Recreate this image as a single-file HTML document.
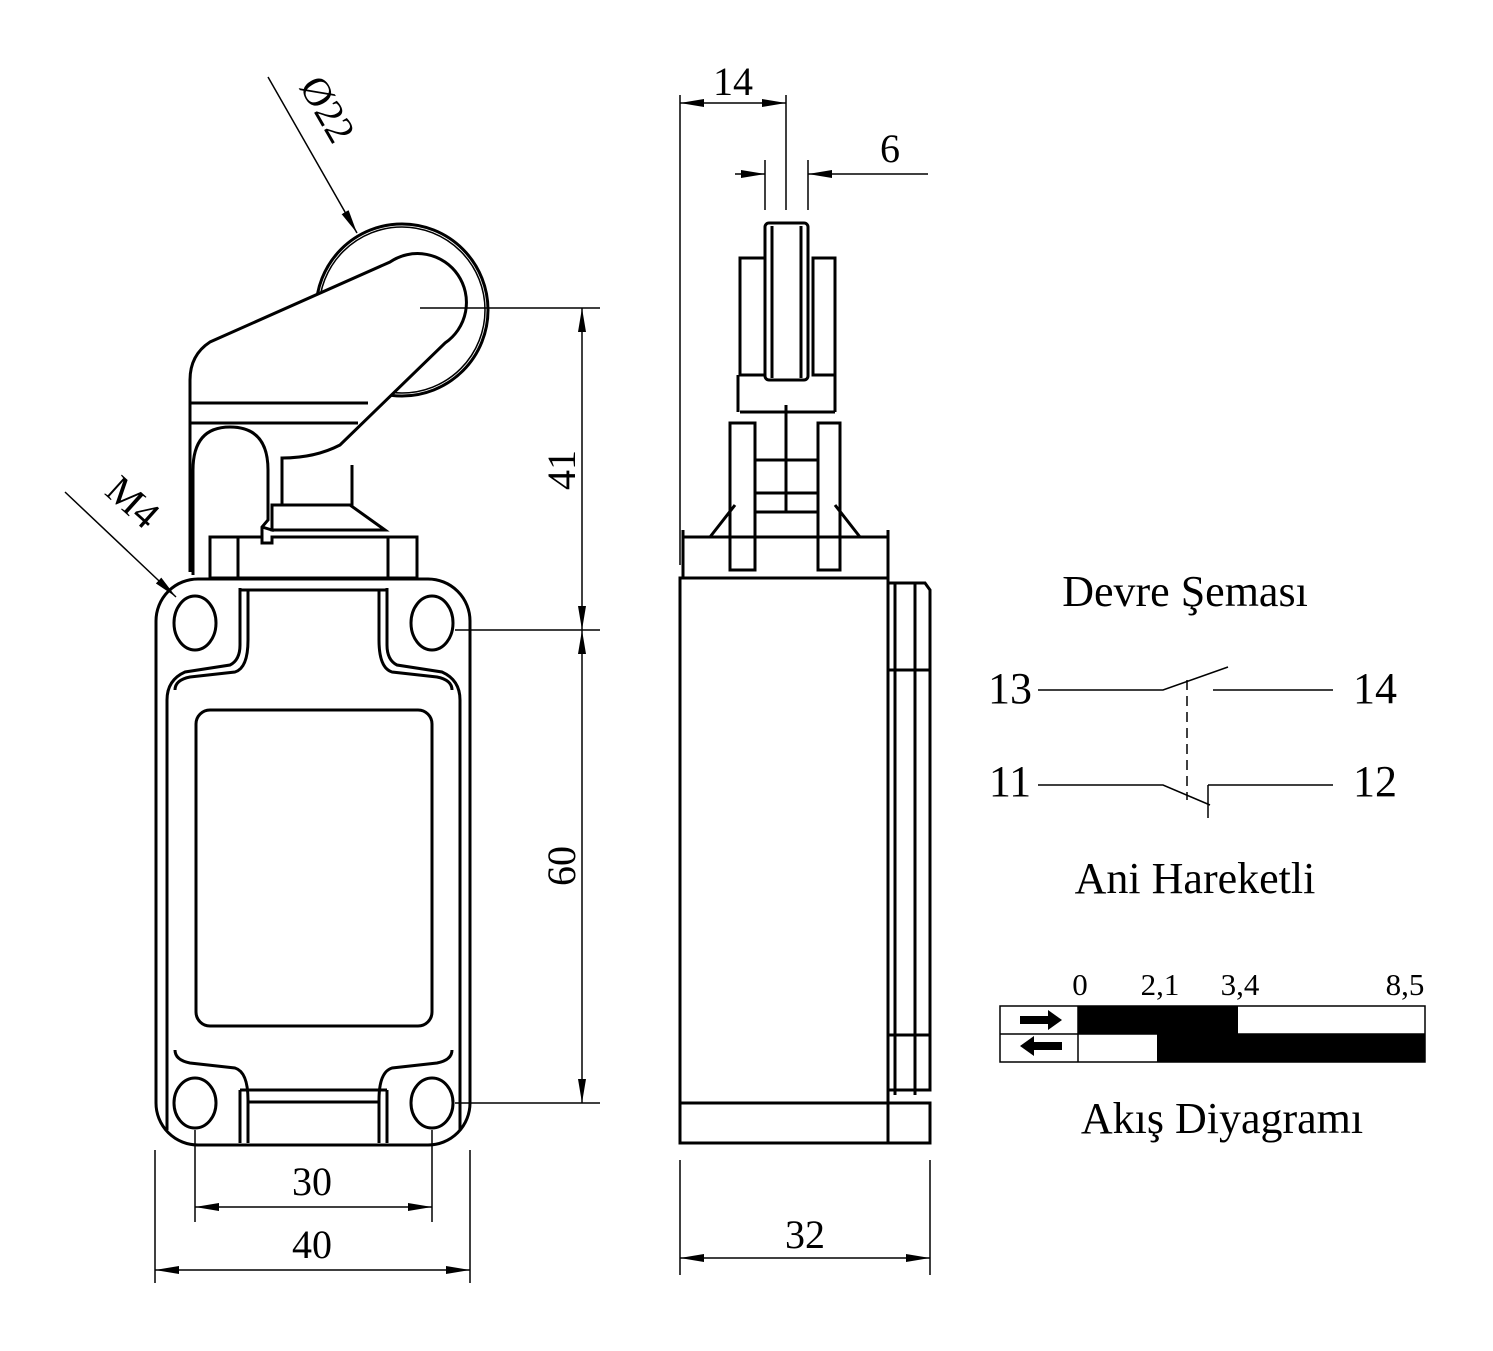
<!DOCTYPE html>
<html><head><style>body{margin:0;background:#fff}svg{display:block}text{font-family:"Liberation Serif",serif;fill:#000}</style></head><body>
<svg width="1493" height="1351" viewBox="0 0 1493 1351" xmlns="http://www.w3.org/2000/svg">
<defs><marker id="a" viewBox="0 0 24 10" refX="24" refY="5" markerWidth="24" markerHeight="10" markerUnits="userSpaceOnUse" orient="auto"><path d="M0,1 L24,5 L0,9 Z" fill="#000"/></marker></defs>
<g fill="none" stroke="#000" stroke-width="3">
<rect x="156" y="579" width="314" height="566" rx="42"/>
<path d="M167,1130 V700 Q167,680 185,672 L230,665 Q240,660 240,645 V588 M460,1130 V700 Q460,680 442,672 L397,665 Q387,660 387,645 V588"/>
<path d="M175,690 Q175,680 190,677 L235,672 Q248,668 248,640 V590 M452,690 Q452,680 437,677 L392,672 Q379,668 379,640 V590"/>
<path d="M175,1050 Q175,1060 190,1063 L235,1068 Q248,1072 248,1100 V1143 M452,1050 Q452,1060 437,1063 L392,1068 Q379,1072 379,1100 V1143"/>
<path d="M167,700 V1040 M460,700 V1040"/>
<path d="M240,1090 H387 M248,1102 H379 M240,1143 V1090 M387,1143 V1090"/>
<rect x="196" y="710" width="236" height="316" rx="14"/>
<ellipse cx="195" cy="623" rx="21" ry="27"/><ellipse cx="432" cy="623" rx="21" ry="27"/>
<ellipse cx="195" cy="1103" rx="21" ry="25"/><ellipse cx="432" cy="1103" rx="21" ry="25"/>
<circle cx="402" cy="310" r="86"/>
<circle cx="402" cy="310" r="83" stroke-width="1.5"/>
<path fill="#fff" d="M190,572 V380 Q190,355 210,342 L390,262 A46,46 0 0 1 445,343 L340,445 Q315,458 282,458 L282,505 H272 V530 L262,527 V537 H190 Z"/>
<path d="M190,403 H368 M190,423 H358"/>
<path fill="#fff" d="M193,572 V470 Q193,427 230,427 Q268,427 268,470 V520 L262,527 V537"/>
<path d="M282,458 V505 H352 V465 M272,505 V530 H367 L385,530 L350,505"/>
<path fill="#fff" d="M210,578 V537 H262 V543 H272 V537 H417 V578 Z"/>
<path d="M238,537 V578 M388,537 V578 M240,590 H387 M193,537 V575"/>
<rect x="680" y="578" width="208" height="565"/>
<path d="M680,1103 H930 V1143 H888 M888,583 H925 L930,590 V1090 H888 M895,583 V1095 M915,583 V1095 M888,670 H930 M888,1035 H930"/>
<path d="M683,530 V578 M888,530 V578 M683,537 H888 M710,537 L735,505 M860,537 L835,505"/>
<rect x="730" y="423" width="25" height="147"/><rect x="818" y="423" width="22" height="147"/>
<path d="M755,460 H818 M755,493 H818 M755,512 H818 M786,405 V512 M740,412 H835 M738,375 V412 M835,375 V412"/>
<rect x="740" y="258" width="25" height="117"/><rect x="813" y="258" width="22" height="117"/>
<rect x="765" y="223" width="43" height="157" rx="4"/>
<path d="M772,226 V378 M801,226 V378"/>
</g>
<g fill="none" stroke="#000" stroke-width="1.5">
<path d="M420,308 H600 M455,630 H600 M455,1103 H600"/>
<line x1="582" y1="400" x2="582" y2="308" marker-end="url(#a)"/><line x1="582" y1="400" x2="582" y2="630" marker-end="url(#a)"/>
<line x1="582" y1="800" x2="582" y2="630" marker-end="url(#a)"/><line x1="582" y1="800" x2="582" y2="1103" marker-end="url(#a)"/>
<path d="M155,1150 V1283 M470,1150 V1283 M195,1130 V1222 M432,1130 V1222 M680,1160 V1275 M930,1160 V1275 M680,95 V565 M786,95 V210 M765,160 V210 M808,160 V210"/>
<line x1="300" y1="1207" x2="195" y2="1207" marker-end="url(#a)"/><line x1="300" y1="1207" x2="432" y2="1207" marker-end="url(#a)"/>
<line x1="300" y1="1270" x2="155" y2="1270" marker-end="url(#a)"/><line x1="300" y1="1270" x2="470" y2="1270" marker-end="url(#a)"/>
<line x1="800" y1="1258" x2="680" y2="1258" marker-end="url(#a)"/><line x1="800" y1="1258" x2="930" y2="1258" marker-end="url(#a)"/>
<line x1="733" y1="103" x2="680" y2="103" marker-end="url(#a)"/><line x1="733" y1="103" x2="786" y2="103" marker-end="url(#a)"/>
<line x1="735" y1="174" x2="765" y2="174" marker-end="url(#a)"/><line x1="928" y1="174" x2="808" y2="174" marker-end="url(#a)"/>
<line x1="268" y1="77" x2="357" y2="233" marker-end="url(#a)"/>
<line x1="65" y1="492" x2="176" y2="597" marker-end="url(#a)"/>
<path d="M1038,690 H1163 L1228,667 M1213,690 H1333 M1038,785 H1163 L1210,805 M1208,785 H1333 M1208,785 V818"/>
<path d="M1187,680 V800" stroke-dasharray="10,6"/>
<rect x="1000" y="1006" width="425" height="56"/><path d="M1000,1034 H1425 M1078,1006 V1062"/>
</g>
<rect x="1078" y="1006" width="160" height="28" fill="#000"/>
<rect x="1157" y="1034" width="268" height="28" fill="#000"/>
<path d="M1020,1016 H1048 V1010 L1062,1020 L1048,1030 V1024 H1020 Z M1062,1042 H1034 V1036 L1020,1046 L1034,1056 V1050 H1062 Z" fill="#000"/>
<g font-size="40" text-anchor="middle">
<text x="312" y="1195">30</text><text x="312" y="1258">40</text><text x="805" y="1248">32</text>
<text x="733" y="95">14</text><text x="890" y="162">6</text>
<text transform="translate(575,470) rotate(-90)">41</text>
<text transform="translate(575,866) rotate(-90)">60</text>
<text transform="translate(316,116) rotate(60)">Ø22</text>
<text transform="translate(124,512) rotate(42)">M4</text>
</g>
<g font-size="44" text-anchor="middle">
<text x="1185" y="606">Devre Şeması</text>
<text x="1010" y="703">13</text><text x="1375" y="703">14</text>
<text x="1010" y="796">11</text><text x="1375" y="796">12</text>
<text x="1195" y="893">Ani Hareketli</text>
<text x="1222" y="1133">Akış Diyagramı</text>
</g>
<g font-size="31" text-anchor="middle">
<text x="1080" y="995">0</text><text x="1160" y="995">2,1</text><text x="1240" y="995">3,4</text><text x="1405" y="995">8,5</text>
</g>
</svg>
</body></html>
